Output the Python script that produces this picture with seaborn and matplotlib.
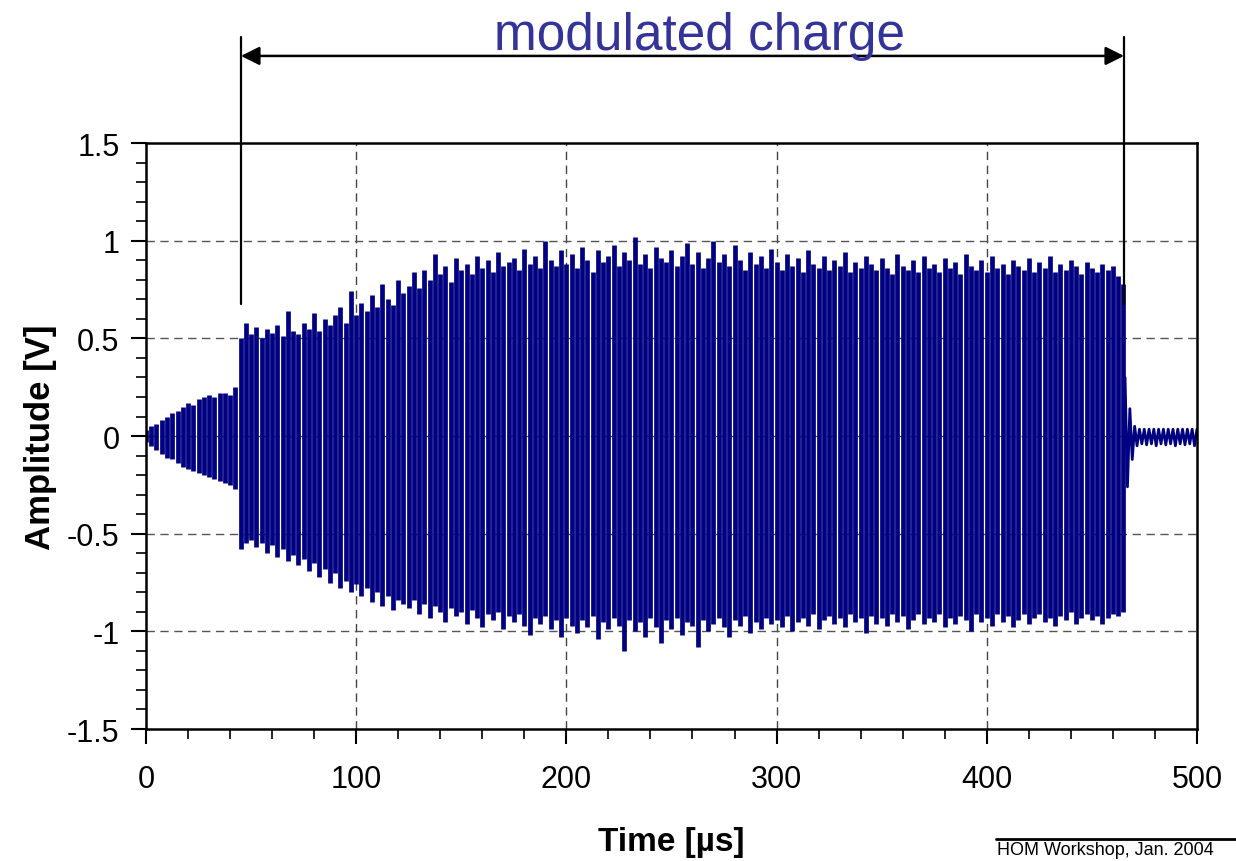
import numpy as np
import matplotlib
matplotlib.use("Agg")
import matplotlib.pyplot as plt
import seaborn as sns

# peak values of the signal, one per 2.5 us step from 0 to 465 us
upper = [0.03, 0.05, 0.06, 0.08, 0.10, 0.12, 0.13, 0.15, 0.17, 0.16,
         0.19, 0.20, 0.21, 0.20, 0.22, 0.22, 0.21, 0.25, 0.50, 0.58,
         0.52, 0.56, 0.50, 0.55, 0.53, 0.57, 0.51, 0.64, 0.54, 0.52,
         0.58, 0.55, 0.63, 0.54, 0.60, 0.57, 0.62, 0.66, 0.58, 0.74,
         0.62, 0.68, 0.64, 0.72, 0.66, 0.78, 0.70, 0.67, 0.80, 0.73,
         0.77, 0.84, 0.76, 0.85, 0.80, 0.93, 0.83, 0.87, 0.79, 0.91,
         0.85, 0.88, 0.83, 0.92, 0.86, 0.90, 0.84, 0.94, 0.87, 0.89,
         0.91, 0.85, 0.96, 0.88, 0.92, 0.86, 1.00, 0.90, 0.87, 0.95,
         0.88, 0.93, 0.86, 0.97, 0.90, 0.84, 0.95, 0.89, 0.92, 0.98,
         0.87, 0.94, 0.90, 1.02, 0.88, 0.93, 0.86, 0.97, 0.91, 0.89,
         0.95, 0.87, 0.92, 0.99, 0.88, 0.94, 0.86, 0.91, 1.00, 0.89,
         0.93, 0.87, 0.98, 0.90, 0.85, 0.94, 0.88, 0.92, 0.86, 0.96,
         0.89, 0.85, 0.93, 0.87, 0.91, 0.84, 0.95, 0.88, 0.86, 0.92,
         0.85, 0.90, 0.87, 0.94, 0.84, 0.89, 0.86, 0.92, 0.88, 0.85,
         0.91, 0.86, 0.83, 0.93, 0.87, 0.85, 0.90, 0.84, 0.92, 0.86,
         0.88, 0.84, 0.91, 0.86, 0.89, 0.83, 0.93, 0.87, 0.85, 0.90,
         0.84, 0.92, 0.86, 0.88, 0.83, 0.90, 0.87, 0.85, 0.91, 0.84,
         0.89, 0.86, 0.92, 0.84, 0.88, 0.85, 0.90, 0.87, 0.83, 0.89,
         0.86, 0.84, 0.88, 0.85, 0.87, 0.82, 0.78]

lower = [-0.03, -0.05, -0.07, -0.09, -0.11, -0.12, -0.14, -0.16, -0.17, -0.18,
         -0.19, -0.20, -0.21, -0.22, -0.23, -0.24, -0.25, -0.27, -0.58, -0.55,
         -0.53, -0.57, -0.55, -0.60, -0.56, -0.62, -0.58, -0.64, -0.61, -0.66,
         -0.63, -0.69, -0.65, -0.72, -0.68, -0.75, -0.70, -0.78, -0.74, -0.80,
         -0.76, -0.82, -0.78, -0.85, -0.80, -0.87, -0.82, -0.89, -0.84, -0.86,
         -0.88, -0.84, -0.91, -0.86, -0.93, -0.87, -0.90, -0.95, -0.88, -0.92,
         -0.90, -0.96, -0.89, -0.93, -0.98, -0.91, -0.94, -0.90, -0.99, -0.92,
         -0.95, -0.91, -0.97, -1.02, -0.93, -0.96, -0.92, -0.99, -0.94, -1.03,
         -0.93, -0.97, -1.01, -0.94, -0.98, -0.92, -1.04, -0.95, -0.99, -0.93,
         -0.97, -1.10, -0.94, -1.00, -0.95, -1.03, -0.93, -0.98, -1.06, -0.94,
         -0.99, -0.93, -1.02, -0.95, -0.97, -1.08, -0.94, -1.00, -0.96, -0.93,
         -0.98, -1.03, -0.94, -0.97, -0.92, -1.01, -0.95, -0.99, -0.93, -0.96,
         -0.94, -0.98, -0.92, -1.00, -0.95, -0.93, -0.97, -0.91, -0.99, -0.94,
         -0.92, -0.96, -0.93, -0.98, -0.91, -0.95, -0.93, -1.01, -0.92, -0.96,
         -0.93, -0.97, -0.91, -0.95, -0.92, -0.99, -0.94, -0.91, -0.96, -0.93,
         -0.95, -0.91, -0.98, -0.93, -0.96, -0.92, -0.94, -1.00, -0.91, -0.95,
         -0.93, -0.97, -0.91, -0.95, -0.92, -0.98, -0.94, -0.91, -0.96, -0.93,
         -0.91, -0.95, -0.93, -0.97, -0.92, -0.94, -0.90, -0.96, -0.93, -0.91,
         -0.94, -0.92, -0.96, -0.93, -0.91, -0.92, -0.90]

# ringing after the charge is switched off
tail_v = [0.30, -0.26, 0.14, -0.12, 0.05, -0.05, 0.035, -0.04, 0.035, -0.045,
          0.035, -0.04, 0.035, -0.05, 0.035, -0.04, 0.035, -0.045, 0.035, -0.04,
          0.035, -0.05, 0.035, -0.04, 0.035, -0.045, 0.035, -0.04, 0.035, -0.05,
          0.035]

t_main = np.arange(len(upper)) * 2.5
t_tail = np.linspace(465.8, 500, len(tail_v))

charge_start, charge_end = 45.2, 465.3

sns.set_theme(style="ticks")
plt.rcParams['font.family'] = ['Liberation Sans', 'DejaVu Sans']

fig = plt.figure(figsize=(12.36, 8.62), dpi=100)
ax = fig.add_axes([0.1181, 0.1531, 0.8503, 0.6798])

navy = '#000080'
ax.vlines(t_main, lower, upper, colors=navy, linewidth=3.4)
sns.lineplot(x=t_tail, y=tail_v, ax=ax, color=navy, linewidth=2)

ax.set_xlim(0, 500)
ax.set_ylim(-1.5, 1.5)
ax.set_xticks([0, 100, 200, 300, 400, 500])
ax.set_yticks([-1.5, -1, -0.5, 0, 0.5, 1, 1.5])
ax.set_yticklabels(['-1.5', '-1', '-0.5', '0', '0.5', '1', '1.5'])
ax.set_xticks(np.arange(0, 501, 20), minor=True)
ax.set_yticks(np.arange(-1.5, 1.51, 0.1), minor=True)
ax.tick_params(axis='both', which='major', labelsize=22, length=11, width=1.5,
               direction='out', color='black', labelcolor='black')
ax.tick_params(axis='both', which='minor', length=7, width=1.2, direction='out', color='black')
ax.tick_params(axis='x', which='major', pad=14)
ax.tick_params(axis='y', which='major', pad=8)

for x in [100, 200, 300, 400]:
    ax.axvline(x, color='#444444', linewidth=1, linestyle=(0, (6, 4)), zorder=0)
for y in [-1, -0.5, 0, 0.5, 1]:
    ax.axhline(y, color='#555555', linewidth=1, linestyle=(0, (6, 4)), zorder=0)

for s in ax.spines.values():
    s.set_visible(True)
    s.set_color('black')
    s.set_linewidth(1.8)

ax.set_xlabel('Time [µs]', fontsize=24, fontweight='bold', color='black')
ax.set_ylabel('Amplitude [V]', fontsize=25, fontweight='bold', color='black')
ax.xaxis.set_label_coords(0.5, -0.165)
ax.yaxis.set_label_coords(-0.085, 0.5)

# bracket marking the modulated charge
for x in [charge_start, charge_end]:
    ax.plot([x, x], [0.676, 2.043], color='black', linewidth=1.6, clip_on=False)
ax.annotate('', xy=(charge_start, 1.946), xytext=(charge_end, 1.946),
            xycoords='data', annotation_clip=False,
            arrowprops=dict(arrowstyle='<|-|>', color='black', linewidth=1.8,
                            mutation_scale=28, shrinkA=0, shrinkB=0))
ax.text(263.5, 2.05, 'modulated charge', fontsize=37, color='#333399',
        ha='center', va='center', clip_on=False)

# footer
fig.add_artist(plt.Line2D([996 / 1236, 1.0], [1 - 840 / 862] * 2,
                          color='black', linewidth=2, transform=fig.transFigure))
fig.text(997 / 1236, 1 - 842 / 862, 'HOM Workshop, Jan. 2004', fontsize=13,
         color='black', ha='left', va='top')

fig.savefig('out.png', dpi=100, facecolor='white')
